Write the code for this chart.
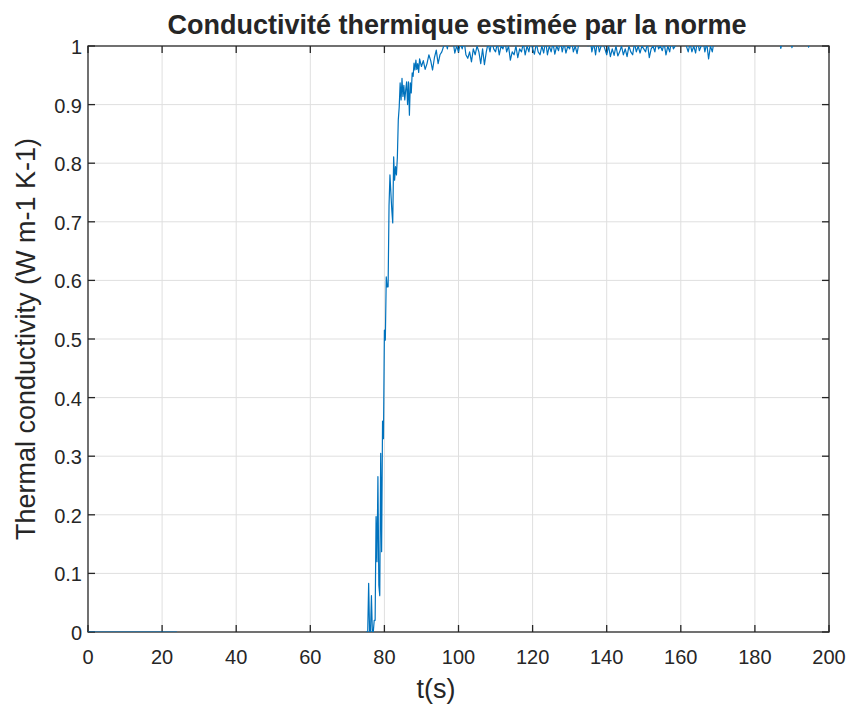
<!DOCTYPE html>
<html>
<head>
<meta charset="utf-8">
<script src="https://cdn.jsdelivr.net/npm/d3@7"></script>
<style>
  body { margin: 0; background: #fff; }
  text { font-family: "Liberation Sans", Arial, sans-serif; fill: #262626; }
</style>
</head>
<body>
<svg id="plot"></svg>
<script>
const { select, scaleLinear, line } = d3;

// flat start, before the sensor signal drops out
const startT = [0, 24];
const startK = [0, 0];

// rise, sampled every 0.25 s from t = 75
const riseStart = 75, riseStep = 0.25;
const riseK = [
    0, 0, 0, 0.083, 0, 0, 0.062, 0, 0, 0.02,
    0.02, 0.197, 0.12, 0.265, 0.08, 0.062, 0.305, 0.137, 0.36, 0.33,
    0.515, 0.498, 0.606, 0.589, 0.589, 0.727, 0.78, 0.749, 0.72, 0.698,
    0.811, 0.771, 0.794, 0.78, 0.81, 0.874, 0.896, 0.937, 0.908, 0.945,
    0.914, 0.933, 0.908, 0.925, 0.939, 0.9, 0.939, 0.882, 0.937, 0.92,
    0.954, 0.948, 0.971, 0.959, 0.976, 0.96, 0.97, 0.955, 0.978
];

// plateau, sampled every 0.5 s from t = 90
const plateauStart = 90, plateauStep = 0.5;
const plateauK = [
    0.965, 0.975, 0.96, 0.97, 0.985, 0.975, 0.959, 0.98, 0.993, 0.97,
    0.985, 0.99, 1.0, 1.01, 0.995, 1.02, 1.005, 1.01, 0.988, 1.0,
    0.99, 1.005, 0.995, 1.01, 0.985, 0.979, 0.99, 0.973, 0.995, 0.985,
    1.0, 0.99, 0.97, 0.995, 0.968, 0.99, 1.005, 0.99, 1.01, 0.995,
    0.99, 1.005, 0.985, 1.0, 0.995, 1.01, 0.99, 1.0, 0.976, 0.99,
    0.985, 1.0, 0.98, 0.995, 0.99, 1.005, 0.985, 1.0, 0.99, 1.01,
    0.995, 0.986, 1.005, 0.99, 0.985, 1.0, 0.988, 1.01, 0.985, 1.0,
    0.99, 1.005, 0.986, 1.0, 0.992, 1.01, 0.99, 1.005, 0.988, 1.0,
    0.995, 1.01, 0.99, 1.0, 0.987, 1.005, 1.01, 1.02, 1.005, 1.01,
    1.0, 1.015, 0.99, 1.005, 0.985, 1.01, 0.99, 1.0, 1.005, 0.995,
    0.985, 1.0, 0.982, 0.995, 0.984, 1.0, 0.983, 0.99, 1.0, 0.985,
    0.995, 0.982, 1.0, 0.99, 0.985, 1.005, 0.99, 1.0, 0.988, 1.0,
    0.995, 0.99, 1.005, 0.98, 0.995, 1.0, 0.99, 1.01, 0.995, 1.0,
    0.992, 1.005, 0.985, 1.0, 0.99, 1.01, 0.995, 1.0, 1.01, 1.005,
    1.02, 1.01, 1.015, 1.0, 0.99, 1.005, 0.99, 1.0, 0.988, 1.01,
    0.992, 1.0, 1.01, 0.99, 1.005, 0.978, 1.0, 0.99, 1.01, 1.02,
    1.01, 1.02, 1.03, 1.015, 1.02, 1.01, 1.025, 1.02, 1.015, 1.03,
    1.02, 1.015, 1.025, 1.01, 1.02, 1.03, 1.015, 1.02, 1.01, 1.025,
    1.02, 1.03, 1.015, 1.02, 1.025, 1.01, 1.02, 1.03, 1.015, 1.02,
    1.025, 1.01, 1.02, 1.015, 0.996, 1.01, 1.02, 1.025, 1.015, 1.02,
    0.997, 1.015, 1.02, 1.025, 1.01, 1.02, 1.015, 1.03, 1.02, 0.998,
    1.015, 1.02, 1.025, 1.01, 1.02, 1.015, 1.025, 1.02, 1.01, 1.02,
    1.02
];

const xTicks = [0, 20, 40, 60, 80, 100, 120, 140, 160, 180, 200];
const yTicks = [0, 0.1, 0.2, 0.3, 0.4, 0.5, 0.6, 0.7, 0.8, 0.9, 1];

const titleText = 'Conductivité thermique estimée par la norme';
const xLabel = 't(s)';
const yLabel = 'Thermal conductivity (W m-1 K-1)';

// build the samples, with a gap where the signal is missing
const data = [];
startT.forEach((t, i) => data.push({ t, k: startK[i] }));
data.push({ t: 50, k: null });
riseK.forEach((k, i) => data.push({ t: riseStart + i * riseStep, k }));
plateauK.forEach((k, i) => data.push({ t: plateauStart + i * plateauStep, k }));

const W = 850, H = 706;
const margin = { top: 46, right: 21, bottom: 74, left: 88 };
const width = W - margin.left - margin.right,
    height = H - margin.top - margin.bottom;
const axisColor = '#262626';
const tickLen = 7;

const svg = select('svg#plot')
    .attr('width', W)
    .attr('height', H);

svg.append('rect').attr('width', W).attr('height', H).attr('fill', '#fff');

const g = svg.append('g')
    .attr('transform', `translate(${margin.left},${margin.top})`);

const x = scaleLinear().domain([0, 200]).range([0, width]);
const y = scaleLinear().domain([0, 1]).range([height, 0]);

// grid
g.append('g')
    .selectAll('line.vgrid')
    .data(xTicks.slice(1, -1))
    .join('line')
    .attr('x1', d => x(d)).attr('x2', d => x(d))
    .attr('y1', 0).attr('y2', height)
    .attr('stroke', '#dfdfdf').attr('stroke-width', 1);
g.append('g')
    .selectAll('line.hgrid')
    .data(yTicks.slice(1, -1))
    .join('line')
    .attr('x1', 0).attr('x2', width)
    .attr('y1', d => y(d)).attr('y2', d => y(d))
    .attr('stroke', '#dfdfdf').attr('stroke-width', 1);

// inward tick marks on all four sides
const ticks = g.append('g').attr('stroke', axisColor).attr('stroke-width', 1.3);
xTicks.forEach(d => {
    ticks.append('line').attr('x1', x(d)).attr('x2', x(d)).attr('y1', height).attr('y2', height - tickLen);
    ticks.append('line').attr('x1', x(d)).attr('x2', x(d)).attr('y1', 0).attr('y2', tickLen);
});
yTicks.forEach(d => {
    ticks.append('line').attr('y1', y(d)).attr('y2', y(d)).attr('x1', 0).attr('x2', tickLen);
    ticks.append('line').attr('y1', y(d)).attr('y2', y(d)).attr('x1', width).attr('x2', width - tickLen);
});

// box
g.append('rect')
    .attr('width', width).attr('height', height)
    .attr('fill', 'none')
    .attr('stroke', axisColor).attr('stroke-width', 1.3);

// data line, clipped to the axes
svg.append('clipPath').attr('id', 'clip')
    .append('rect').attr('x', 0).attr('y', 0).attr('width', width).attr('height', height);

const path = line()
    .defined(d => d.k !== null)
    .x(d => x(d.t))
    .y(d => y(d.k));

g.append('path')
    .datum(data)
    .attr('clip-path', 'url(#clip)')
    .attr('fill', 'none')
    .attr('stroke', '#0072BD')
    .attr('stroke-width', 1.2)
    .attr('stroke-linejoin', 'round')
    .attr('d', path);

// tick labels
g.append('g')
    .selectAll('text')
    .data(xTicks)
    .join('text')
    .attr('x', d => x(d))
    .attr('y', height + 32)
    .attr('text-anchor', 'middle')
    .style('font-size', '20px')
    .text(d => d);

g.append('g')
    .selectAll('text')
    .data(yTicks)
    .join('text')
    .attr('x', -6)
    .attr('y', d => y(d) + 8)
    .attr('text-anchor', 'end')
    .style('font-size', '20px')
    .text(d => d);

// labels and title
svg.append('text')
    .attr('x', 436)
    .attr('y', 698)
    .attr('text-anchor', 'middle')
    .style('font-size', '27px')
    .text(xLabel);

svg.append('text')
    .attr('transform', `translate(35,${margin.top + height / 2}) rotate(-90)`)
    .attr('text-anchor', 'middle')
    .style('font-size', '27px')
    .text(yLabel);

svg.append('text')
    .attr('x', 457)
    .attr('y', 34)
    .attr('text-anchor', 'middle')
    .style('font-size', '27px')
    .style('font-weight', 'bold')
    .text(titleText);
</script>
</body>
</html>
